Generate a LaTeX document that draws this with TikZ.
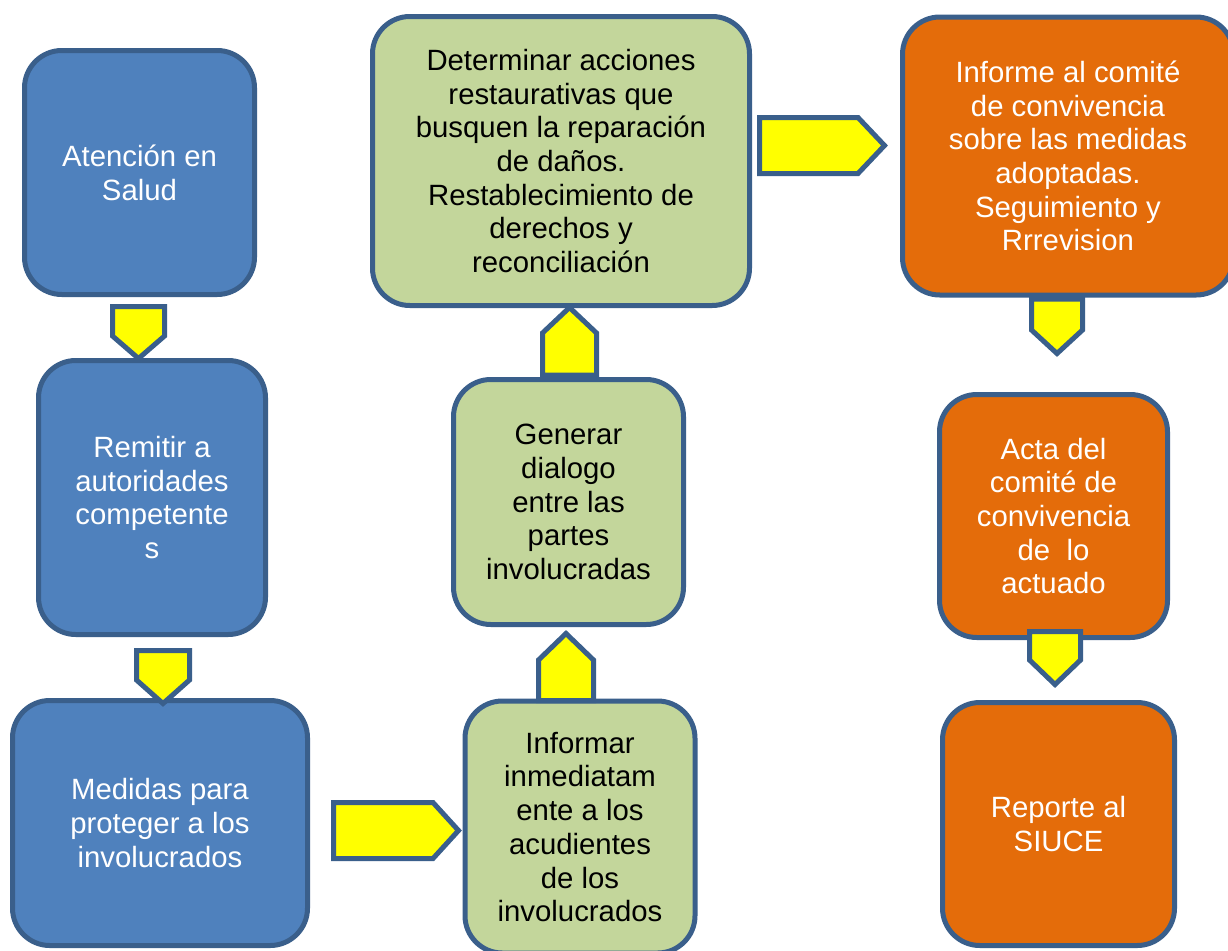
\documentclass[tikz,border=0pt]{standalone}
\usepackage{fontspec}
\setmainfont{Liberation Sans}
\definecolor{bfill}{HTML}{4F81BD}
\definecolor{bline}{HTML}{3A5F8B}
\definecolor{gfill}{HTML}{C3D69B}
\definecolor{ofill}{HTML}{E46C0A}
\definecolor{yfill}{HTML}{FFFF00}
\begin{document}
\begin{tikzpicture}[x=0.75pt,y=-0.75pt,
  box/.style={draw=bline,line width=3.75pt,rounded corners=28pt,align=center,
    font=\fontsize{22}{25.3}\selectfont,inner sep=0pt},
  bluebox/.style={box,fill=bfill,text=white},
  greenbox/.style={box,fill=gfill,text=black},
  orangebox/.style={box,fill=ofill,text=white},
  blockarrow/.style={draw=bline,fill=yfill,line width=3.75pt,line join=miter}]
\useasboundingbox (0,0) rectangle (1228,950);
\fill[white] (0,0) rectangle (1228,950);
% boxes
\node[bluebox,minimum width=172.5pt,minimum height=183pt] (a) at (139.5,172.5) {Atención en\\Salud};
\node[bluebox,minimum width=170.25pt,minimum height=205.5pt] (b) at (152,497.5) {Remitir a\\autoridades\\competente\\s};
\node[bluebox,minimum width=221.25pt,minimum height=183.75pt] (c) at (160,823) {Medidas para\\proteger a los\\involucrados};
\node[greenbox,minimum width=172.5pt,minimum height=189pt] (d) at (580,827) {Informar\\inmediatam\\ente a los\\acudientes\\de los\\involucrados};
\node[greenbox,minimum width=172.5pt,minimum height=183.75pt] (e) at (568.5,502) {Generar\\dialogo\\entre las\\partes\\involucradas};
\node[greenbox,minimum width=282.75pt,minimum height=216.75pt] (f) at (561,161) {Determinar acciones\\restaurativas que\\busquen la reparación\\de daños.\\Restablecimiento de\\derechos y\\reconciliación};
\node[orangebox,minimum width=248.25pt,minimum height=208.5pt] (g) at (1068,156) {Informe al comité\\de convivencia\\sobre las medidas\\adoptadas.\\Seguimiento y\\Rrrevision};
\node[orangebox,minimum width=171pt,minimum height=182.25pt] (h) at (1053.5,516) {Acta del\\comité de\\convivencia\\de\ \ lo\\actuado};
\node[orangebox,minimum width=174pt,minimum height=182.25pt] (i) at (1058.5,824) {Reporte al\\SIUCE};
% block arrows
\draw[blockarrow] (112.5,306.5) -- (164.5,306.5) -- (164.5,336) -- (138.5,358.5) -- (112.5,336) -- cycle;
\draw[blockarrow] (136.5,650.5) -- (189.5,650.5) -- (189.5,680) -- (163,703.5) -- (136.5,680) -- cycle;
\draw[blockarrow] (333.5,802.5) -- (433,802.5) -- (458.5,830.5) -- (433,858.5) -- (333.5,858.5) -- cycle;
\draw[blockarrow] (538.5,700.5) -- (593.5,700.5) -- (593.5,660) -- (566,633.5) -- (538.5,660) -- cycle;
\draw[blockarrow] (542.5,375) -- (596.5,375) -- (596.5,333) -- (569.5,307.5) -- (542.5,333) -- cycle;
\draw[blockarrow] (759.5,117.5) -- (858,117.5) -- (884.5,145.5) -- (858,173.5) -- (759.5,173.5) -- cycle;
\draw[blockarrow] (1031.5,299) -- (1082.5,299) -- (1082.5,330) -- (1057,353.5) -- (1031.5,330) -- cycle;
\draw[blockarrow] (1029.5,631.5) -- (1080.5,631.5) -- (1080.5,660) -- (1055,684.5) -- (1029.5,660) -- cycle;
\end{tikzpicture}
\end{document}
